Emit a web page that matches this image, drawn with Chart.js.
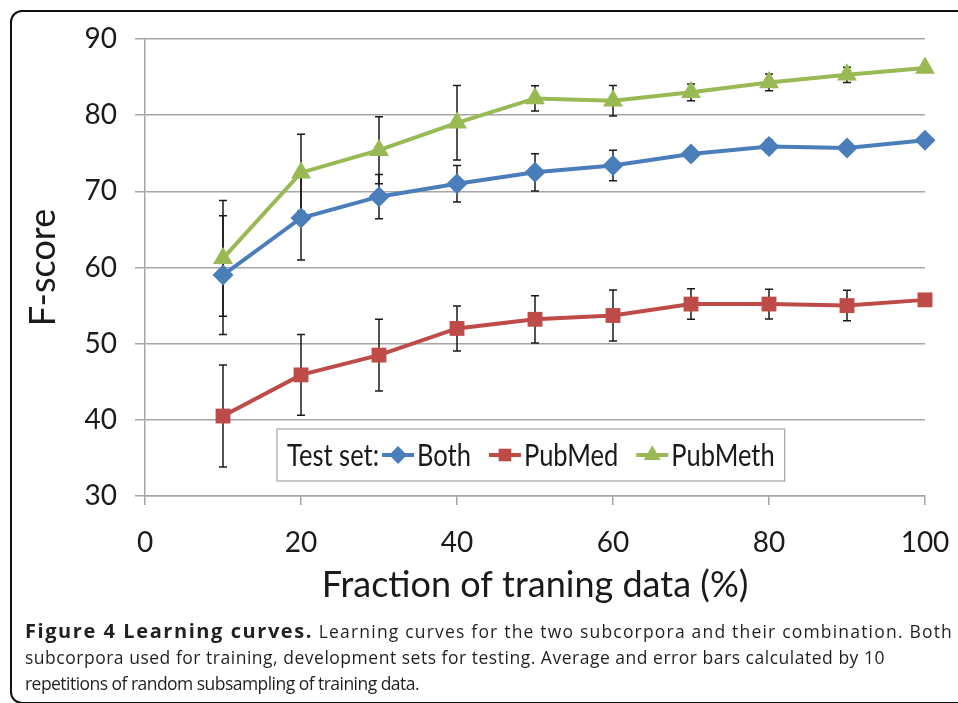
<!DOCTYPE html>
<html lang="en">
<head>
<meta charset="UTF-8">
<title>Learning curves</title>
<script src="https://cdn.jsdelivr.net/npm/chart.js"></script>
<style>
  html, body {
    margin: 0;
    padding: 0;
    background: #fff;
    width: 958px;
    height: 703px;
    overflow: hidden;
  }
  .frame {
    position: absolute;
    left: 10px;
    top: 10px;
    width: 1000px;
    height: 690px;
    border: 2px solid #111;
    border-radius: 12px;
  }
  #chart {
    position: absolute;
    left: 0;
    top: 0;
  }
  .caption {
    position: absolute;
    left: 25px;
    top: 618px;
    width: 960px;
    font-family: "Open Sans", sans-serif;
    font-size: 17.5px;
    line-height: 26px;
    color: #231f20;
  }
  .caption div { white-space: nowrap; }
  .caption b { font-weight: bold; font-size: 20px; }
</style>
</head>
<body>
<div class="frame"></div>
<canvas id="chart" width="958" height="620"></canvas>
<div class="caption">
  <div><b id="capHead">Figure 4 Learning curves.</b><span id="cap1"> Learning curves for the two subcorpora and their combination. Both</span></div>
  <div><span id="cap2">subcorpora used for training, development sets for testing. Average and error bars calculated by 10</span></div>
  <div><span id="cap3">repetitions of random subsampling of training data.</span></div>
</div>

<script>
// fraction of training data (%)
const fractions = [10, 20, 30, 40, 50, 60, 70, 80, 90, 100];

// mean F-score per test set
const both = [59.0, 66.5, 69.3, 71.0, 72.5, 73.4, 74.9, 75.9, 75.7, 76.7];
const pubmed = [40.5, 45.9, 48.5, 52.0, 53.2, 53.7, 55.2, 55.2, 55.0, 55.75];
const pubmeth = [61.2, 72.45, 75.4, 79.0, 82.2, 81.9, 83.0, 84.3, 85.3, 86.2];

// error bar half-widths
const bothErr = [7.8, 5.5, 2.9, 2.4, 2.45, 2.0, 0.3, 0.85, 0.3, 0.2];
const pubmedErr = [6.7, 5.3, 4.7, 2.95, 3.1, 3.35, 2.0, 1.95, 2.0, 0.3];
const pubmethErr = [7.6, 5.05, 4.4, 4.9, 1.65, 2.0, 1.1, 1.1, 1.0, 0.2];

const seriesNames = ["Both", "PubMed", "PubMeth"];
const legendPrefix = "Test set:";

const FONT = "Lato, 'Open Sans', sans-serif";

// squeeze caption text to the widths of the printed caption
function fitText(id, target) {
  const el = document.getElementById(id);
  const w = el.getBoundingClientRect().width;
  el.style.letterSpacing = ((target - w) / el.textContent.length) + "px";
}
fitText("capHead", 288);
fitText("cap1", 640);
fitText("cap2", 860);
fitText("cap3", 394);

function toPoints(ys) {
  return fractions.map((x, i) => ({ x: x, y: ys[i] }));
}

// draws the black error bars behind the markers
const errorBars = {
  id: "errorBars",
  beforeDatasetsDraw(chart) {
    const ctx = chart.ctx;
    const xs = chart.scales.x;
    const ys = chart.scales.y;
    ctx.save();
    ctx.strokeStyle = "#1a1a1a";
    ctx.lineWidth = 1.5;
    chart.data.datasets.forEach(ds => {
      ds.data.forEach((p, i) => {
        const e = ds.errors[i];
        const px = xs.getPixelForValue(p.x);
        const top = ys.getPixelForValue(p.y + e);
        const bot = ys.getPixelForValue(p.y - e);
        ctx.beginPath();
        ctx.moveTo(px, top);
        ctx.lineTo(px, bot);
        ctx.moveTo(px - 4, top);
        ctx.lineTo(px + 4, top);
        ctx.moveTo(px - 4, bot);
        ctx.lineTo(px + 4, bot);
        ctx.stroke();
      });
    });
    ctx.restore();
  }
};

// legend box inside the plot, Excel style with a "Test set:" prefix
const boxLegend = {
  id: "boxLegend",
  afterDraw(chart) {
    const ctx = chart.ctx;
    const area = chart.chartArea;
    const left = 277, h = 52, sx = 0.85;
    const bottom = area.bottom - 15;
    const top = bottom - h;
    const midY = top + h / 2 + 1;
    ctx.save();
    ctx.font = "30px " + FONT;
    ctx.textBaseline = "middle";
    const sample = 32;

    function text(str, x) {
      ctx.save();
      ctx.translate(x, midY);
      ctx.scale(sx, 1);
      ctx.fillStyle = "#1a1a1a";
      ctx.fillText(str, 0, 0);
      ctx.restore();
      return ctx.measureText(str).width * sx;
    }

    let x = left + 10;
    x += text(legendPrefix, x) + 3;
    chart.data.datasets.forEach((ds, i) => {
      if (i > 0) x += 18;
      ctx.strokeStyle = ds.borderColor;
      ctx.lineWidth = 4;
      ctx.beginPath();
      ctx.moveTo(x, midY - 1);
      ctx.lineTo(x + sample, midY - 1);
      ctx.stroke();
      ctx.fillStyle = ds.backgroundColor;
      Chart.helpers.drawPoint(ctx, {
        pointStyle: ds.pointStyle,
        radius: ds.pointRadius * 0.85,
        borderWidth: 0
      }, x + sample / 2, midY - 1);
      x += sample + 3;
      x += text(ds.label, x);
    });
    const right = x + 10;
    ctx.strokeStyle = "#a6a6a6";
    ctx.lineWidth = 1.2;
    ctx.strokeRect(left, top, right - left, h);
    ctx.restore();
  }
};

const colors = ["#4a7ebb", "#be4b48", "#98b954"];
const styles = ["rectRot", "rect", "triangle"];
const radii = [10.5, 10.5, 11.5];
const values = [both, pubmed, pubmeth];
const errs = [bothErr, pubmedErr, pubmethErr];

const datasets = seriesNames.map((name, i) => ({
  label: name,
  data: toPoints(values[i]),
  errors: errs[i],
  borderColor: colors[i],
  backgroundColor: colors[i],
  borderWidth: 4,
  pointStyle: styles[i],
  pointRadius: radii[i],
  pointBorderWidth: 0,
  pointBackgroundColor: colors[i],
  tension: 0,
  clip: false
}));

new Chart(document.getElementById("chart"), {
  type: "line",
  data: { datasets: datasets },
  options: {
    responsive: false,
    animation: false,
    events: [],
    layout: { padding: { top: 39, right: 33, left: 0, bottom: 0 } },
    plugins: {
      legend: { display: false },
      tooltip: { enabled: false }
    },
    scales: {
      x: {
        type: "linear",
        min: 0,
        max: 100,
        ticks: {
          stepSize: 20,
          color: "#1a1a1a",
          font: { family: FONT, size: 28 },
          padding: 21
        },
        grid: {
          drawOnChartArea: false,
          color: "#a6a6a6",
          lineWidth: 1.5,
          tickLength: 9
        },
        border: { color: "#a6a6a6", width: 1.5 },
        title: {
          display: true,
          text: "Fraction of traning data (%)",
          color: "#1a1a1a",
          font: { family: FONT, size: 36 },
          padding: { top: 0, bottom: 13 }
        },
        afterFit(scale) {
          scale.height = 124;
          scale.paddingLeft = 0;
          scale.paddingRight = 0;
        }
      },
      y: {
        min: 30,
        max: 90,
        ticks: {
          stepSize: 10,
          color: "#1a1a1a",
          font: { family: FONT, size: 28 },
          padding: 18
        },
        grid: {
          color: "#a6a6a6",
          lineWidth: 1.5,
          tickLength: 10
        },
        border: { color: "#a6a6a6", width: 1.5 },
        title: {
          display: true,
          text: "F-score",
          color: "#1a1a1a",
          font: { family: FONT, size: 36 },
          padding: { top: 22, bottom: 0 }
        },
        afterFit(scale) { scale.width = 145; }
      }
    }
  },
  plugins: [errorBars, boxLegend]
});
</script>
</body>
</html>
